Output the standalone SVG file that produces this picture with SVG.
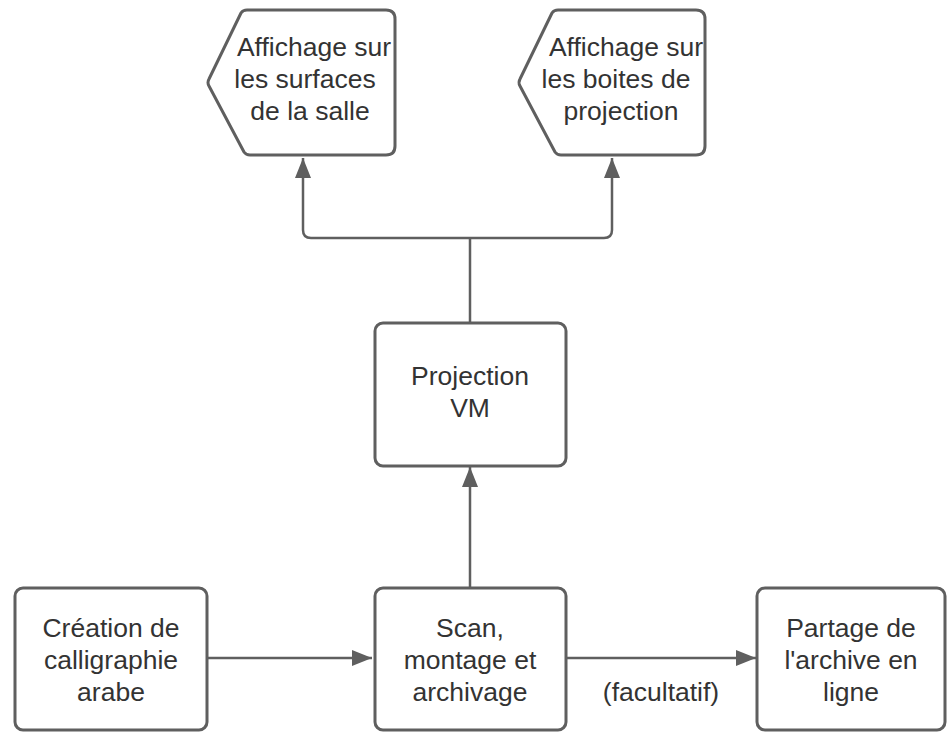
<svg xmlns="http://www.w3.org/2000/svg" width="950" height="732" viewBox="0 0 950 732">
<style>
.box{fill:#fff;stroke:#5f5f5f;stroke-width:3;stroke-linejoin:round}
.conn{fill:none;stroke:#5f5f5f;stroke-width:2.5}
text{font-family:"Liberation Sans",Arial,sans-serif;font-size:26.5px;fill:#333;text-anchor:middle}
</style>
<defs>
<marker id="ah" markerUnits="userSpaceOnUse" markerWidth="22" markerHeight="16" refX="20" refY="8" orient="auto">
<path d="M0,0 L20,8 L0,16 Z" fill="#5f5f5f"/>
</marker>
</defs>
<rect width="950" height="732" fill="#fff"/>
<g id="connectors">
<path class="conn" d="M470,323 V238 M470,238 H311 Q303,238 303,230 V158" marker-end="url(#ah)"/>
<path class="conn" d="M470,238 H604 Q612,238 612,230 V158" marker-end="url(#ah)"/>
<path class="conn" d="M470,587 V467" marker-end="url(#ah)"/>
<path class="conn" d="M207,658 H372" marker-end="url(#ah)"/>
<path class="conn" d="M567,658 H756" marker-end="url(#ah)"/>
<text x="661" y="701">(facultatif)</text>
</g>
<g id="display1">
<path class="box" d="M209,79 L241,13 Q243,10 247,10 H386 Q395,10 395,19 V146 Q395,155 386,155 H250 Q246,155 244,152 L209,86 Q207,82.5 209,79 Z"/>
<text x="314" y="56">Affichage sur</text>
<text x="305" y="88">les surfaces</text>
<text x="310" y="120">de la salle</text>
</g>
<g id="display2">
<path class="box" d="M520,79 L552,13 Q554,10 558,10 H696 Q705,10 705,19 V146 Q705,155 696,155 H561 Q557,155 555,152 L520,86 Q518,82.5 520,79 Z"/>
<text x="626" y="56">Affichage sur</text>
<text x="616" y="88">les boites de</text>
<text x="621" y="120">projection</text>
</g>
<g id="projection">
<rect class="box" x="375" y="323" width="191" height="143" rx="8"/>
<text x="470" y="385">Projection</text>
<text x="470" y="417">VM</text>
</g>
<g id="creation">
<rect class="box" x="15" y="588" width="192" height="142" rx="8"/>
<text x="111" y="637">Création de</text>
<text x="111" y="669">calligraphie</text>
<text x="111" y="701">arabe</text>
</g>
<g id="scan">
<rect class="box" x="375" y="588" width="191" height="142" rx="8"/>
<text x="470" y="637">Scan,</text>
<text x="470" y="669">montage et</text>
<text x="470" y="701">archivage</text>
</g>
<g id="partage">
<rect class="box" x="757" y="588" width="188" height="142" rx="8"/>
<text x="851" y="637">Partage de</text>
<text x="851" y="669">l'archive en</text>
<text x="851" y="701">ligne</text>
</g>
</svg>
